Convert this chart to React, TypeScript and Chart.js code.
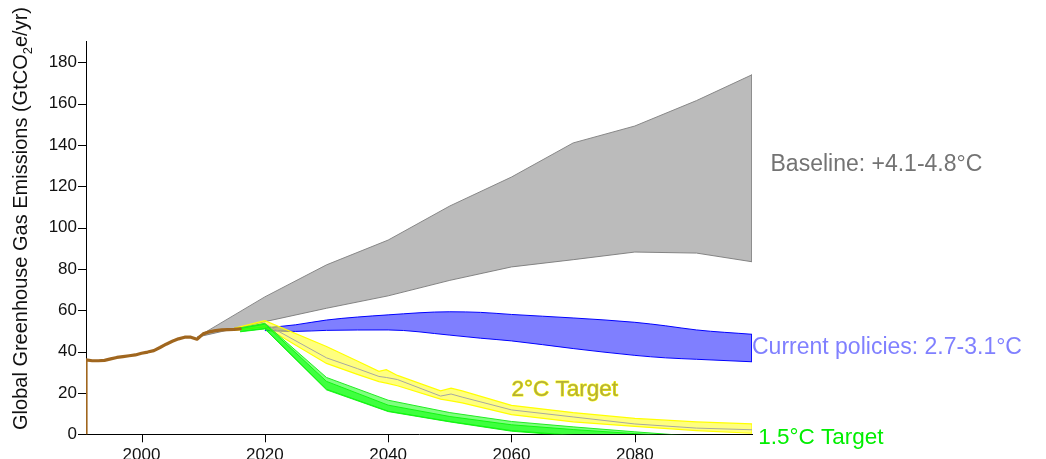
import React, { useEffect, useRef } from 'react';
import { Chart, registerables } from 'chart.js';

Chart.register(...registerables);

const FONT = '"Liberation Sans", Arial, Helvetica, sans-serif';

// Historical emissions (GtCO2e/yr)
const histYears = [1991, 1991, 1992, 1993, 1994, 1995, 1996, 1997, 1998, 1999, 2000, 2001, 2002, 2003, 2004, 2005, 2006, 2007, 2008, 2009, 2010, 2011, 2012, 2013, 2014, 2015, 2016];
const histEmissions = [0, 36, 35.6, 35.6, 35.8, 36.5, 37.2, 37.6, 38.0, 38.4, 39.2, 39.8, 40.5, 42.0, 43.6, 45.0, 46.2, 47.0, 47.0, 46.0, 48.6, 49.6, 50.2, 50.5, 50.7, 50.8, 51.0];

// Baseline scenario band
const baselineYears = [2009, 2020, 2030, 2040, 2050, 2060, 2070, 2080, 2090, 2099];
const baselineUpper = [47, 66.5, 82, 94, 110.5, 124.5, 141, 149.2, 161.5, 174];
const baselineLower = [47, 54.5, 61, 67, 74.5, 81, 84.5, 88.2, 87.7, 83.5];

// Current policies band
const policyYears = [2020, 2025, 2030, 2040, 2050, 2055, 2060, 2070, 2080, 2085, 2090, 2099];
const policyUpper = [51.5, 53, 55.3, 57.8, 59.3, 59.0, 58.0, 56.3, 54.2, 52.5, 50.5, 48.4];
const policyLower = [50.2, 49.8, 50.3, 50.5, 48, 46.5, 45.2, 41.5, 38.2, 37, 36.3, 35.1];

// 2°C band
const twoYears = [2015, 2020, 2030, 2035, 2038.5, 2039.7, 2041.5, 2048.5, 2050.2, 2052, 2060, 2070, 2080, 2090, 2099];
const twoUpper = [51.3, 55, 42.5, 35.5, 30.5, 31.3, 28.5, 21, 22.3, 21, 14, 10.5, 7.7, 6, 5];
const twoLower = [50.3, 52, 34.3, 29, 25.5, 24.8, 23.5, 17, 16.2, 15.2, 9.5, 6, 3.8, 1.8, 0.5];
const twoMedian = [50.8, 53.5, 37, 31.8, 28, 27.5, 26.5, 18.5, 19.5, 18, 11.8, 8.4, 5, 3, 2.2];

// 1.5°C bands
const onePointFiveYears = [2016, 2020, 2030, 2040, 2050, 2060, 2070, 2080, 2090, 2099];
const oneAUpper = [51.5, 53.7, 27.5, 16.5, 10.5, 6.2, 3.6, 1.2, -1, -2];
const oneALower = [49.6, 51, 21.5, 11, 6, 1.5, -0.8, -2.5, -3, -3];
const oneBUpper = [51.2, 53.3, 25.6, 14.1, 8.6, 4.6, 2.3, 0.3, -1.5, -2.5];
const oneBLower = [49.8, 51.2, 21.8, 11.2, 6.2, 1.8, -0.5, -2.3, -3, -3];

// Axis
const xMin = 1991;
const xMax = 2099;
const xTickValues = [2000, 2010, 2020, 2030, 2040, 2050, 2060, 2070, 2080, 2090];
const xTickLabels = ['2000', '', '2020', '', '2040', '', '2060', '', '2080', ''];
const yMin = 0;
const yMax = 190;
const yTickValues = [0, 10, 20, 30, 40, 50, 60, 70, 80, 90, 100, 110, 120, 130, 140, 150, 160, 170, 180, 190];
const yTickLabels = ['0', '', '20', '', '40', '', '60', '', '80', '', '100', '', '120', '', '140', '', '160', '', '180', ''];

const yTitleMain = 'Global Greenhouse Gas Emissions (GtCO';
const yTitleSub = '2';
const yTitleEnd = 'e/yr)';

const labelTexts = ['Baseline: +4.1-4.8°C', 'Current policies: 2.7-3.1°C', '2°C Target', '1.5°C Target'];
const labelX = [2102, 2099, 2060, 2100];
const labelY = [130.4, 41.75, 21.4, -1.55];

function pts(xs: number[], ys: number[]) {
  return xs.map((x, i) => ({ x, y: ys[i] }));
}

export default function App() {
  const ref = useRef<HTMLCanvasElement>(null);

  useEffect(() => {
    const canvas = ref.current;
    if (!canvas) return;

    const annot = {
      id: 'annot',
      afterDraw(chart: any) {
        const { ctx, chartArea } = chart;
        const xs = chart.scales.x;
        const ys = chart.scales.y;
        ctx.save();
        // tick marks
        ctx.strokeStyle = '#000';
        ctx.lineWidth = 1;
        ys.ticks.forEach((t: any) => {
          const py = Math.round(ys.getPixelForValue(t.value)) + 0.5;
          const len = t.value % 20 === 0 ? 8 : 4;
          ctx.beginPath();
          ctx.moveTo(chartArea.left - len, py);
          ctx.lineTo(chartArea.left, py);
          ctx.stroke();
        });
        xs.ticks.forEach((t: any) => {
          const px = Math.round(xs.getPixelForValue(t.value)) + 0.5;
          const len = t.value % 20 === 0 ? 8 : 4;
          ctx.beginPath();
          ctx.moveTo(px, chartArea.bottom);
          ctx.lineTo(px, chartArea.bottom + len);
          ctx.stroke();
        });

        // y-axis title
        ctx.fillStyle = '#111';
        ctx.textBaseline = 'alphabetic';
        ctx.textAlign = 'left';
        const mainFont = `20px ${FONT}`;
        const subFont = `13px ${FONT}`;
        ctx.font = mainFont;
        const w1 = ctx.measureText(yTitleMain).width;
        const w3 = ctx.measureText(yTitleEnd).width;
        ctx.font = subFont;
        const w2 = ctx.measureText(yTitleSub).width;
        const total = w1 + w2 + w3;
        ctx.translate(27, (chartArea.top + chartArea.bottom) / 2 - 19.5);
        ctx.rotate(-Math.PI / 2);
        let cx = -total / 2;
        ctx.font = mainFont;
        ctx.fillText(yTitleMain, cx, 0);
        cx += w1;
        ctx.font = subFont;
        ctx.fillText(yTitleSub, cx, 4.5);
        cx += w2;
        ctx.font = mainFont;
        ctx.fillText(yTitleEnd, cx, 0);
        ctx.setTransform(1, 0, 0, 1, 0, 0);

        // annotation labels
        ctx.textAlign = 'left';
        ctx.textBaseline = 'middle';
        labelTexts.forEach((txt, i) => {
          const px = xs.getPixelForValue(labelX[i]);
          const py = ys.getPixelForValue(labelY[i]);
          ctx.font = `23px ${FONT}`;
          if (i === 0) {
            ctx.fillStyle = '#737373';
            ctx.fillText(txt, px, py);
          } else if (i === 1) {
            ctx.fillStyle = '#8080ff';
            ctx.fillText(txt, px, py);
          } else if (i === 2) {
            ctx.font = `22.5px ${FONT}`;
            ctx.lineWidth = 1;
            ctx.lineJoin = 'round';
            ctx.strokeStyle = '#ffff00';
            ctx.strokeText(txt, px, py);
            ctx.fillStyle = '#b4ae3a';
            ctx.fillText(txt, px, py);
          } else {
            ctx.font = `22.5px ${FONT}`;
            ctx.fillStyle = '#00ee00';
            ctx.fillText(txt, px, py);
          }
        });
        ctx.restore();
      },
    };

    const band = (label: string, xsArr: number[], up: number[], lo: number[], fillColor: string, border: string, bw: number, tension: number, mono: boolean) => [
      {
        label: label + ' upper',
        data: pts(xsArr, up),
        borderColor: border,
        borderWidth: bw,
        backgroundColor: fillColor,
        fill: '+1',
        tension,
        cubicInterpolationMode: mono ? 'monotone' : 'default',
        pointRadius: 0,
      },
      {
        label: label + ' lower',
        data: pts(xsArr, lo),
        borderColor: border,
        borderWidth: bw,
        fill: false,
        tension,
        cubicInterpolationMode: mono ? 'monotone' : 'default',
        pointRadius: 0,
      },
    ];

    const edge = (xv: number, a: number, b: number, color: string, bw: number) => ({
      label: 'edge',
      data: [{ x: xv, y: a }, { x: xv, y: b }],
      borderColor: color,
      borderWidth: bw,
      fill: false,
      pointRadius: 0,
    });

    const datasets: any[] = [
      {
        label: 'Historical',
        data: pts(histYears, histEmissions),
        borderColor: '#a0661e',
        borderWidth: 3.2,
        fill: false,
        pointRadius: 0,
        borderJoinStyle: 'round',
        borderCapStyle: 'round',
      },
      ...band('1.5A', onePointFiveYears, oneAUpper, oneALower, 'rgba(0,255,0,0.5)', '#22ee22', 1, 0, false),
      ...band('1.5B', onePointFiveYears, oneBUpper, oneBLower, 'rgba(0,255,0,0.5)', '#22ee22', 1, 0, false),
      {
        label: '2C median',
        data: pts(twoYears, twoMedian),
        borderColor: '#a8a8a0',
        borderWidth: 1,
        fill: false,
        pointRadius: 0,
      },
      edge(twoYears[twoYears.length - 1], twoUpper[twoUpper.length - 1], twoLower[twoLower.length - 1], '#ffff00', 1.2),
      ...band('2C', twoYears, twoUpper, twoLower, 'rgba(255,255,0,0.5)', '#ffff00', 1.2, 0, false),
      edge(policyYears[policyYears.length - 1], policyUpper[policyUpper.length - 1], policyLower[policyLower.length - 1], '#0000ff', 1),
      ...band('Policies', policyYears, policyUpper, policyLower, 'rgba(0,0,255,0.5)', '#0000ff', 1, 0.4, true),
      edge(baselineYears[baselineYears.length - 1], baselineUpper[baselineUpper.length - 1], baselineLower[baselineLower.length - 1], '#888888', 1),
      ...band('Baseline', baselineYears, baselineUpper, baselineLower, 'rgba(120,120,120,0.5)', '#888888', 1, 0, false),
    ];

    const chart = new Chart(canvas, {
      type: 'line',
      data: { datasets },
      plugins: [annot],
      options: {
        responsive: false,
        animation: false,
        events: [],
        layout: { padding: { left: 0, top: 41.7, right: 294, bottom: 0 } },
        plugins: {
          legend: { display: false },
          tooltip: { enabled: false },
          title: { display: false },
        },
        elements: { point: { radius: 0 } },
        scales: {
          x: {
            type: 'linear',
            min: xMin,
            max: xMax,
            afterBuildTicks: (s: any) => {
              s.ticks = xTickValues.map((v) => ({ value: v }));
            },
            afterFit: (s: any) => {
              s.height = 459 - 434.3;
            },
            grid: { display: false, drawTicks: true, tickLength: 8 },
            border: { display: true, color: '#000', width: 1 },
            ticks: {
              autoSkip: false,
              maxRotation: 0,
              minRotation: 0,
              padding: 3,
              color: '#111',
              font: { family: FONT, size: 17 },
              callback: (v: any) => {
                const i = xTickValues.indexOf(Number(v));
                return i >= 0 && xTickLabels[i] ? xTickLabels[i] : null;
              },
            },
          },
          y: {
            type: 'linear',
            min: yMin,
            max: yMax,
            afterBuildTicks: (s: any) => {
              s.ticks = yTickValues.map((v) => ({ value: v }));
            },
            afterFit: (s: any) => {
              s.width = 86;
            },
            grid: { display: false, drawTicks: true, tickLength: 8 },
            border: { display: true, color: '#000', width: 1 },
            ticks: {
              autoSkip: false,
              padding: 1,
              color: '#111',
              font: { family: FONT, size: 17 },
              callback: (v: any) => {
                const i = yTickValues.indexOf(Number(v));
                return i >= 0 && yTickLabels[i] ? yTickLabels[i] : null;
              },
            },
          },
        },
      } as any,
    });

    return () => chart.destroy();
  }, []);

  return (
    <div style={{ position: 'fixed', left: 0, top: 0, width: 1046, height: 459, background: '#fff' }}>
      <canvas ref={ref} width={1046} height={459} style={{ display: 'block', width: 1046, height: 459 }} />
    </div>
  );
}
